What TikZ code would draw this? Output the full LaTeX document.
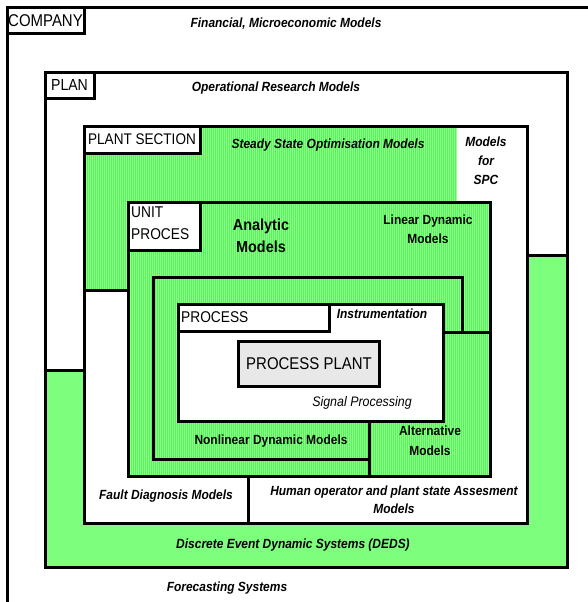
\documentclass[tikz,border=0pt]{standalone}
\usepackage{fontspec}
\setmainfont{Liberation Sans}
\newfontfamily\narrowsans[FakeStretch=0.88]{Liberation Sans}
\newfontfamily\modelsans[FakeStretch=0.9]{Liberation Sans}

\definecolor{hatchgreen}{RGB}{70,255,70}
\definecolor{stripegreen}{RGB}{150,255,150}
\definecolor{dedsgreen}{RGB}{125,255,125}
\definecolor{plantgray}{RGB}{232,232,232}

% green area with pale vertical stripes, one unit wide, every second column
\newcommand\stripedarea[4]{%
  \begin{scope}
    \clip (#1,#2) rectangle (#3,#4);
    \fill[hatchgreen] (#1,#2) rectangle (#3,#4);
    \foreach \s in {0,2,...,588}
      \fill[stripegreen] (\s,#2) rectangle ({\s+1},#4);
  \end{scope}}

\tikzset{
  frame/.style={draw=black, line width=3pt},
  labelbox/.style={frame, fill=white},
  tag/.style={font=\narrowsans\fontsize{16}{18}\selectfont, inner sep=0pt},
  model/.style={font=\modelsans\fontsize{13.3}{19}\selectfont\bfseries\itshape, inner sep=0pt, align=center},
  plainmodel/.style={font=\modelsans\fontsize{13.3}{19}\selectfont\bfseries, inner sep=0pt, align=center},
}

\begin{document}
\begin{tikzpicture}[x=1pt,y=-1pt]
  \useasboundingbox (0,0) rectangle (588,602);
  \clip (0,0) rectangle (588,602);
  \fill[white] (0,0) rectangle (588,602);

  % --- company level
  \draw[frame] (7,8) rectangle (620,640);

  % --- plan level, with the DEDS band underneath
  \fill[dedsgreen] (45,72) rectangle (567,567);
  \fill[white] (45,72) -- (567,72) -- (567,255) -- (527,255) -- (527,290)
               -- (84,290) -- (84,370) -- (45,370) -- cycle;
  \draw[frame] (45,72) rectangle (567,567);
  \draw[frame] (527,255) -- (567,255);
  \draw[frame] (45,370) -- (84,370);

  % --- plant section, SPC column and the fault / operator band
  \stripedarea{84}{126}{527}{290}
  \fill[white] (457,126) rectangle (527,523);
  \fill[white] (84,290) rectangle (527,523);
  \draw[frame] (84,523) -- (84,126) -- (527,126) -- (527,523) -- cycle;
  \draw[frame] (84,290) -- (128,290);
  \draw[frame] (248,476) -- (248,523);

  % --- unit process
  \stripedarea{128}{202}{490}{476}
  \draw[frame] (128,202) rectangle (490,476);
  % nonlinear dynamic models
  \stripedarea{153}{277}{462}{459}
  \draw[frame] (153,277) rectangle (462,459);
  % alternative models
  \stripedarea{369}{332}{490}{476}
  \draw[frame] (369,332) rectangle (490,476);
  % process
  \fill[white] (178,304) rectangle (443,421);
  \draw[frame] (178,304) rectangle (443,421);
  % process plant
  \fill[plantgray] (238,341) rectangle (379,386);
  \draw[frame] (238,341) rectangle (379,386);

  % --- level tags
  \draw[labelbox] (7,8) rectangle (84,34);
  \node[tag, font=\narrowsans\fontsize{17}{19}\selectfont] (tcompany) at (45.5,21) {COMPANY};
  \draw[labelbox] (45,72) rectangle (94,98);
  \node[tag] (tplan) at (69.5,85) {PLAN};
  \draw[labelbox] (84,126) rectangle (200,153);
  \node[tag, font=\narrowsans\fontsize{15.4}{18}\selectfont] (tplant) at (142,139.5) {PLANT SECTION};
  \draw[labelbox] (128,202) rectangle (200,250);
  \node[tag, align=left, anchor=north west, font=\narrowsans\fontsize{15.6}{22}\selectfont] (tunit) at (131,207) {UNIT\\PROCES};
  \draw[labelbox] (178,304) rectangle (329,331);
  \node[tag, anchor=west, font=\narrowsans\fontsize{15.6}{18}\selectfont] (tprocess) at (181,317.5) {PROCESS};
  \node[tag, font=\narrowsans\fontsize{17}{19}\selectfont] (tpp) at (309,363.5) {PROCESS PLANT};

  % --- model families
  \node[model] (fin) at (286,24) {Financial, Microeconomic Models};
  \node[model] (opr) at (276,88) {Operational Research Models};
  \node[model] (sso) at (328,145) {Steady State Optimisation Models};
  \node[model] (spc) at (486,161) {Models\\for\\SPC};
  \node[plainmodel, font=\modelsans\fontsize{16}{22}\selectfont\bfseries] (ana) at (261,236) {Analytic\\Models};
  \node[plainmodel] (lin) at (428,229.5) {Linear Dynamic\\Models};
  \node[model] (ins) at (382,314) {Instrumentation};
  \node[inner sep=0pt, font=\modelsans\fontsize{13.8}{15}\selectfont\itshape] (sig) at (362,403) {Signal Processing};
  \node[plainmodel] (nld) at (271,441) {Nonlinear Dynamic Models};
  \node[plainmodel, font=\modelsans\fontsize{13.3}{20}\selectfont\bfseries] (alt) at (430,441) {Alternative\\Models};
  \node[model] (fdm) at (166,496) {Fault Diagnosis Models};
  \node[model, font=\modelsans\fontsize{13.3}{18}\selectfont\bfseries\itshape] (hum) at (394,500) {Human operator and plant state Assesment\\Models};
  \node[model] (deds) at (293,545) {Discrete Event Dynamic Systems (DEDS)};
  \node[model] (fcs) at (227,588) {Forecasting Systems};
\end{tikzpicture}
\end{document}
